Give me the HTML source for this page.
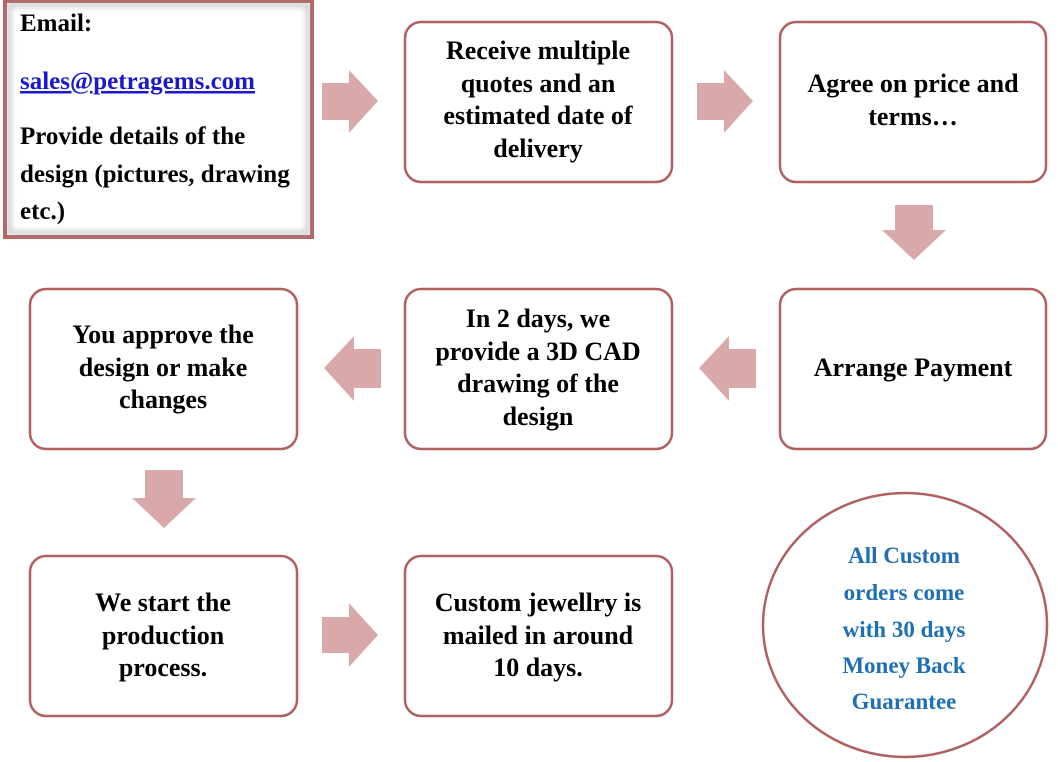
<!DOCTYPE html>
<html><head><meta charset="utf-8"><style>
html,body{margin:0;padding:0;background:#fff;width:1058px;height:762px;overflow:hidden}
</style></head><body>
<svg width="1058" height="762" viewBox="0 0 1058 762" xmlns="http://www.w3.org/2000/svg" font-family="Liberation Serif, DejaVu Serif, serif" font-weight="bold" font-size="26">
<defs>
<filter id="ish" x="-5%" y="-5%" width="110%" height="110%">
<feGaussianBlur stdDeviation="3"/>
</filter>
</defs>
<rect x="5" y="1" width="307" height="236" fill="#fff" stroke="#b56464" stroke-width="4"/>
<rect x="9" y="5" width="299" height="228" fill="none" stroke="#999" stroke-width="4" filter="url(#ish)" opacity="0.6"/>
<g font-size="25">
<text x="20" y="31">Email:</text>
<text x="20" y="89" fill="#1a1acc" text-decoration="underline">sales@petragems.com</text>
<text x="20" y="144">Provide details of the</text>
<text x="20" y="182">design (pictures, drawing</text>
<text x="20" y="219">etc.)</text>
</g>

<g fill="#fff" stroke="#b06060" stroke-width="2.5">
<rect x="405" y="22" width="267" height="160" rx="16"/>
<rect x="780" y="22" width="266" height="160" rx="16"/>
<rect x="30" y="289" width="267" height="160" rx="16"/>
<rect x="405" y="289" width="267" height="160" rx="16"/>
<rect x="780" y="289" width="266" height="160" rx="16"/>
<rect x="30" y="556" width="267" height="160" rx="16"/>
<rect x="405" y="556" width="267" height="160" rx="16"/>
<ellipse cx="905" cy="625" rx="142" ry="132"/>
</g>

<g fill="#d9a9a9">
<polygon points="322,83 349,83 349,70 378,101 349,133 349,120 322,120"/>
<polygon points="697,83 724,83 724,70 753,101 724,133 724,120 697,120"/>
<polygon points="895,205 933,205 933,230 946,230 914,260 882,230 895,230"/>
<polygon points="381,349 354,349 354,336 324,368 354,401 354,388 381,388"/>
<polygon points="756,349 729,349 729,336 699,368 729,401 729,388 756,388"/>
<polygon points="145,470 183,470 183,498 196,498 164,528 132,498 145,498"/>
<polygon points="322,617 349,617 349,603 378,635 349,667 349,653 322,653"/>
</g>

<g text-anchor="middle">
<text x="538" y="59">Receive multiple</text>
<text x="538" y="92">quotes and an</text>
<text x="538" y="124">estimated date of</text>
<text x="538" y="157">delivery</text>
<text x="913" y="92">Agree on price and</text>
<text x="913" y="125">terms…</text>
<text x="163" y="343">You approve the</text>
<text x="163" y="376">design or make</text>
<text x="163" y="408">changes</text>
<text x="538" y="327">In 2 days, we</text>
<text x="538" y="360">provide a 3D CAD</text>
<text x="538" y="392">drawing of the</text>
<text x="538" y="425">design</text>
<text x="913" y="376">Arrange Payment</text>
<text x="163" y="611">We start the</text>
<text x="163" y="644">production</text>
<text x="163" y="676">process.</text>
<text x="538" y="611">Custom jewellry is</text>
<text x="538" y="644">mailed in around</text>
<text x="538" y="676">10 days.</text>
<g font-size="23" fill="#1f6fb5">
<text x="904" y="563">All Custom</text>
<text x="904" y="600">orders come</text>
<text x="904" y="637">with 30 days</text>
<text x="904" y="673">Money Back</text>
<text x="904" y="709">Guarantee</text>
</g>
</g>
</svg>
</body></html>
